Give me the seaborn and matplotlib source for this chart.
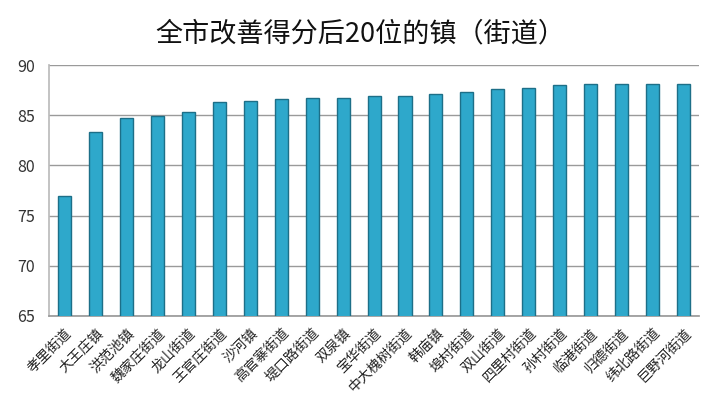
import pandas as pd
import matplotlib
matplotlib.use("Agg")
import matplotlib.pyplot as plt
import seaborn as sns

# Data
towns = ['孝里街道', '大王庄镇', '洪范池镇', '魏家庄街道', '龙山街道', '王官庄街道',
         '沙河镇', '高官寨街道', '堤口路街道', '双泉镇', '宝华街道', '中大槐树街道',
         '韩庙镇', '埠村街道', '双山街道', '四里村街道', '孙村街道', '临港街道',
         '归德街道', '纬北路街道', '巨野河街道']
scores = [77.0, 83.3, 84.7, 84.9, 85.3, 86.3, 86.4, 86.6, 86.7, 86.7, 86.9, 86.9,
          87.1, 87.3, 87.6, 87.7, 88.0, 88.1, 88.1, 88.1, 88.1]
yticks = [65, 70, 75, 80, 85, 90]

df = pd.DataFrame({'town': towns, 'score': scores})

sns.set_theme(style="white")
plt.rcParams['font.family'] = ['Noto Sans CJK SC', 'DejaVu Sans']

fig = plt.figure(figsize=(7.2, 4.04), dpi=100)
ax = fig.add_axes([0.068, 0.218, 0.903, 0.621])

sns.barplot(data=df, x='town', y='score', color='#2EA8CB', width=0.42,
            edgecolor='#1D6F88', linewidth=1.0, saturation=1, ax=ax, zorder=3)

ax.set_ylim(65, 90)
ax.set_xlim(-0.5, len(towns) - 0.5)
ax.set_yticks(yticks)
ax.set_yticklabels([str(t) for t in yticks], fontsize=11.5, color='#333333')
ax.yaxis.grid(True, color='#9a9a9a', linewidth=1.0, zorder=0)
ax.tick_params(axis='y', length=0, pad=10)
ax.tick_params(axis='x', length=0, pad=7)
ax.set_xticks(range(len(towns)))
ax.set_xticklabels(towns, rotation=45, ha='right', rotation_mode='anchor',
                   fontsize=10, color='#222222')
ax.set_xlabel('')
ax.set_ylabel('')
for side in ['top', 'right']:
    ax.spines[side].set_visible(False)
ax.spines['left'].set_color('#bbbbbb')
ax.spines['bottom'].set_color('#9a9a9a')

fig.text(0.5, 0.917, '全市改善得分后20位的镇（街道）', ha='center', va='center',
         fontsize=19.5, color='#111111')

fig.savefig('out.png', dpi=100, facecolor='white')
